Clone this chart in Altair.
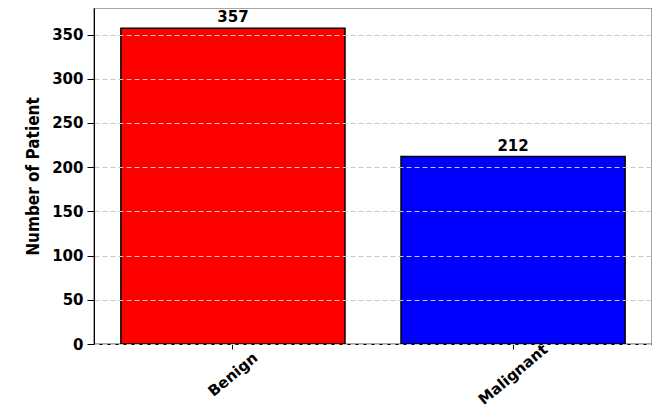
import altair as alt
import pandas as pd

categories = ["Benign", "Malignant"]
counts = [357, 212]
colors = ["#ff0000", "#0000ff"]

df = pd.DataFrame({"cat": categories, "n": counts})

x = alt.X("cat:N", sort=categories, title=None,
          scale=alt.Scale(paddingInner=0.2, paddingOuter=0.096),
          axis=alt.Axis(labelAngle=-40, labelAlign="center", labelBaseline="middle",
                        labelFont="DejaVu Sans", labelFontWeight="bold", labelFontSize=15,
                        labelColor="black", domainColor="black", tickColor="black",
                        labelPadding=25, tickSize=5))

bars = alt.Chart(df).mark_bar(stroke="black", strokeWidth=1.5).encode(
    x=x,
    y=alt.Y("n:Q", title="Number of Patient",
            scale=alt.Scale(domain=[0, 380], nice=False),
            axis=alt.Axis(values=[0, 50, 100, 150, 200, 250, 300, 350],
                          grid=True, gridDash=[5, 3], gridColor="#c8c8c8", gridWidth=1,
                          labelFont="DejaVu Sans", labelFontWeight="bold", labelFontSize=15,
                          labelColor="black", domainColor="black", tickColor="black",
                          tickSize=7, labelPadding=4, zindex=1,
                          titleFont="DejaVu Sans Condensed, Roboto Condensed, Liberation Sans Narrow, sans-serif",
                          titleFontWeight="bold",
                          titleFontSize=17, titleColor="black", titlePadding=9)),
    color=alt.Color("cat:N", scale=alt.Scale(domain=categories, range=colors), legend=None),
)

labels = alt.Chart(df).mark_text(baseline="bottom", dy=-3, font="DejaVu Sans",
                                 fontWeight="bold", fontSize=15, color="black").encode(
    x=alt.X("cat:N", sort=categories),
    y="n:Q",
    text="n:Q",
)

chart = (bars + labels).properties(width=558, height=336, padding={"left": 16, "top": 0, "right": 0, "bottom": 0}).configure_view(
    stroke="#888888", strokeWidth=1.5
)

chart.save("out.html", embed_options={"renderer": "svg", "actions": False})
